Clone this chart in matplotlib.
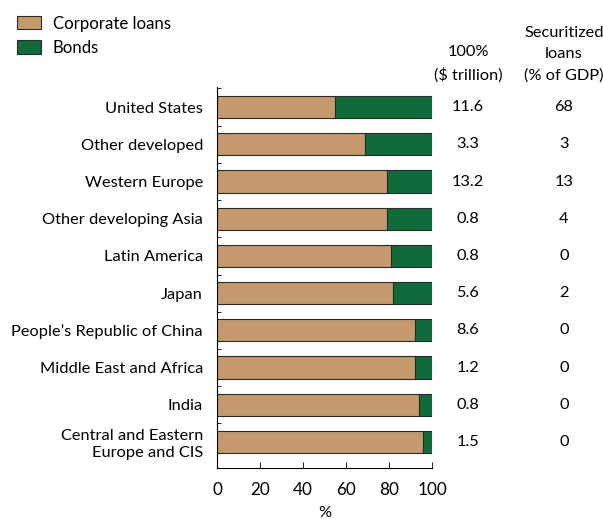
import matplotlib
matplotlib.use("Agg")
import matplotlib.pyplot as plt
import matplotlib.transforms as mtransforms
from matplotlib.patches import Patch

plt.rcParams['font.family'] = ['Lato', 'DejaVu Sans']

# Andel företagslån / obligationer per region (%)
regioner = ['United States', 'Other developed', 'Western Europe', 'Other developing Asia',
            'Latin America', 'Japan', 'People\u2019s Republic of China', 'Middle East and Africa',
            'India', 'Central and Eastern\nEurope and CIS']
foretagslan = [55, 69, 79, 79, 81, 82, 92, 92, 94, 96]
obligationer = [100 - v for v in foretagslan]
totalt_biljoner = ['11.6', '3.3', '13.2', '0.8', '0.8', '5.6', '8.6', '1.2', '0.8', '1.5']
securitiserade = ['68', '3', '13', '4', '0', '2', '0', '0', '0', '0']

farg_lan = '#C49A6C'
farg_obl = '#0F6B3A'
kant = '#2a2a2a'
fs = 11.8

fig = plt.figure(figsize=(6.03, 5.19), dpi=100)
ax = fig.add_axes([217 / 603, 1 - 468 / 519, 215 / 603, (468 - 87) / 519])

y = list(range(len(regioner)))
ax.barh(y, foretagslan, height=0.6, color=farg_lan, edgecolor=kant, linewidth=0.8)
ax.barh(y, obligationer, left=foretagslan, height=0.6, color=farg_obl, edgecolor=kant, linewidth=0.8)

ax.set_xlim(0, 100)
ax.set_ylim(9.7, -0.54)
ax.set_yticks(y)
ax.set_yticklabels(regioner, fontsize=fs, ha='right')
ax.tick_params(axis='y', length=0, pad=10)
ax.set_yticks([i - 0.5 for i in y], minor=True)
ax.tick_params(axis='y', which='minor', direction='in', length=3, width=0.6)
ax.set_xticks([0, 20, 40, 60, 80, 100])
ax.tick_params(axis='x', direction='in', length=4, width=0.6, labelsize=fs + 0.5, pad=10)
ax.set_xlabel('%', fontsize=fs, labelpad=6)

for s in ['top', 'right']:
    ax.spines[s].set_visible(False)
for s in ['left', 'bottom']:
    ax.spines[s].set_linewidth(0.8)

# Kolumner till höger om staplarna
trans = mtransforms.blended_transform_factory(fig.transFigure, ax.transData)
for i in y:
    ax.text(468 / 603, i, totalt_biljoner[i], transform=trans, ha='center', va='center', fontsize=fs)
    ax.text(564 / 603, i, securitiserade[i], transform=trans, ha='center', va='center', fontsize=fs)

fig.text(468 / 603, 1 - 83 / 519, '100%\n($ trillion)', ha='center', va='bottom',
         fontsize=fs, linespacing=1.7)
fig.text(564 / 603, 1 - 83 / 519, 'Securitized\nloans\n(% of GDP)', ha='center', va='bottom',
         fontsize=fs, linespacing=1.65)

handtag = [Patch(facecolor=farg_lan, edgecolor=kant, linewidth=0.8, label='Corporate loans'),
           Patch(facecolor=farg_obl, edgecolor=kant, linewidth=0.8, label='Bonds')]
fig.legend(handles=handtag, loc='upper left', bbox_to_anchor=(14 / 603, 1 - 13 / 519), frameon=False,
           fontsize=fs + 0.3, handlelength=1.45, handleheight=0.85, labelspacing=0.5,
           handletextpad=0.7, borderaxespad=0, borderpad=0.15)

fig.savefig('out.png', dpi=100)
